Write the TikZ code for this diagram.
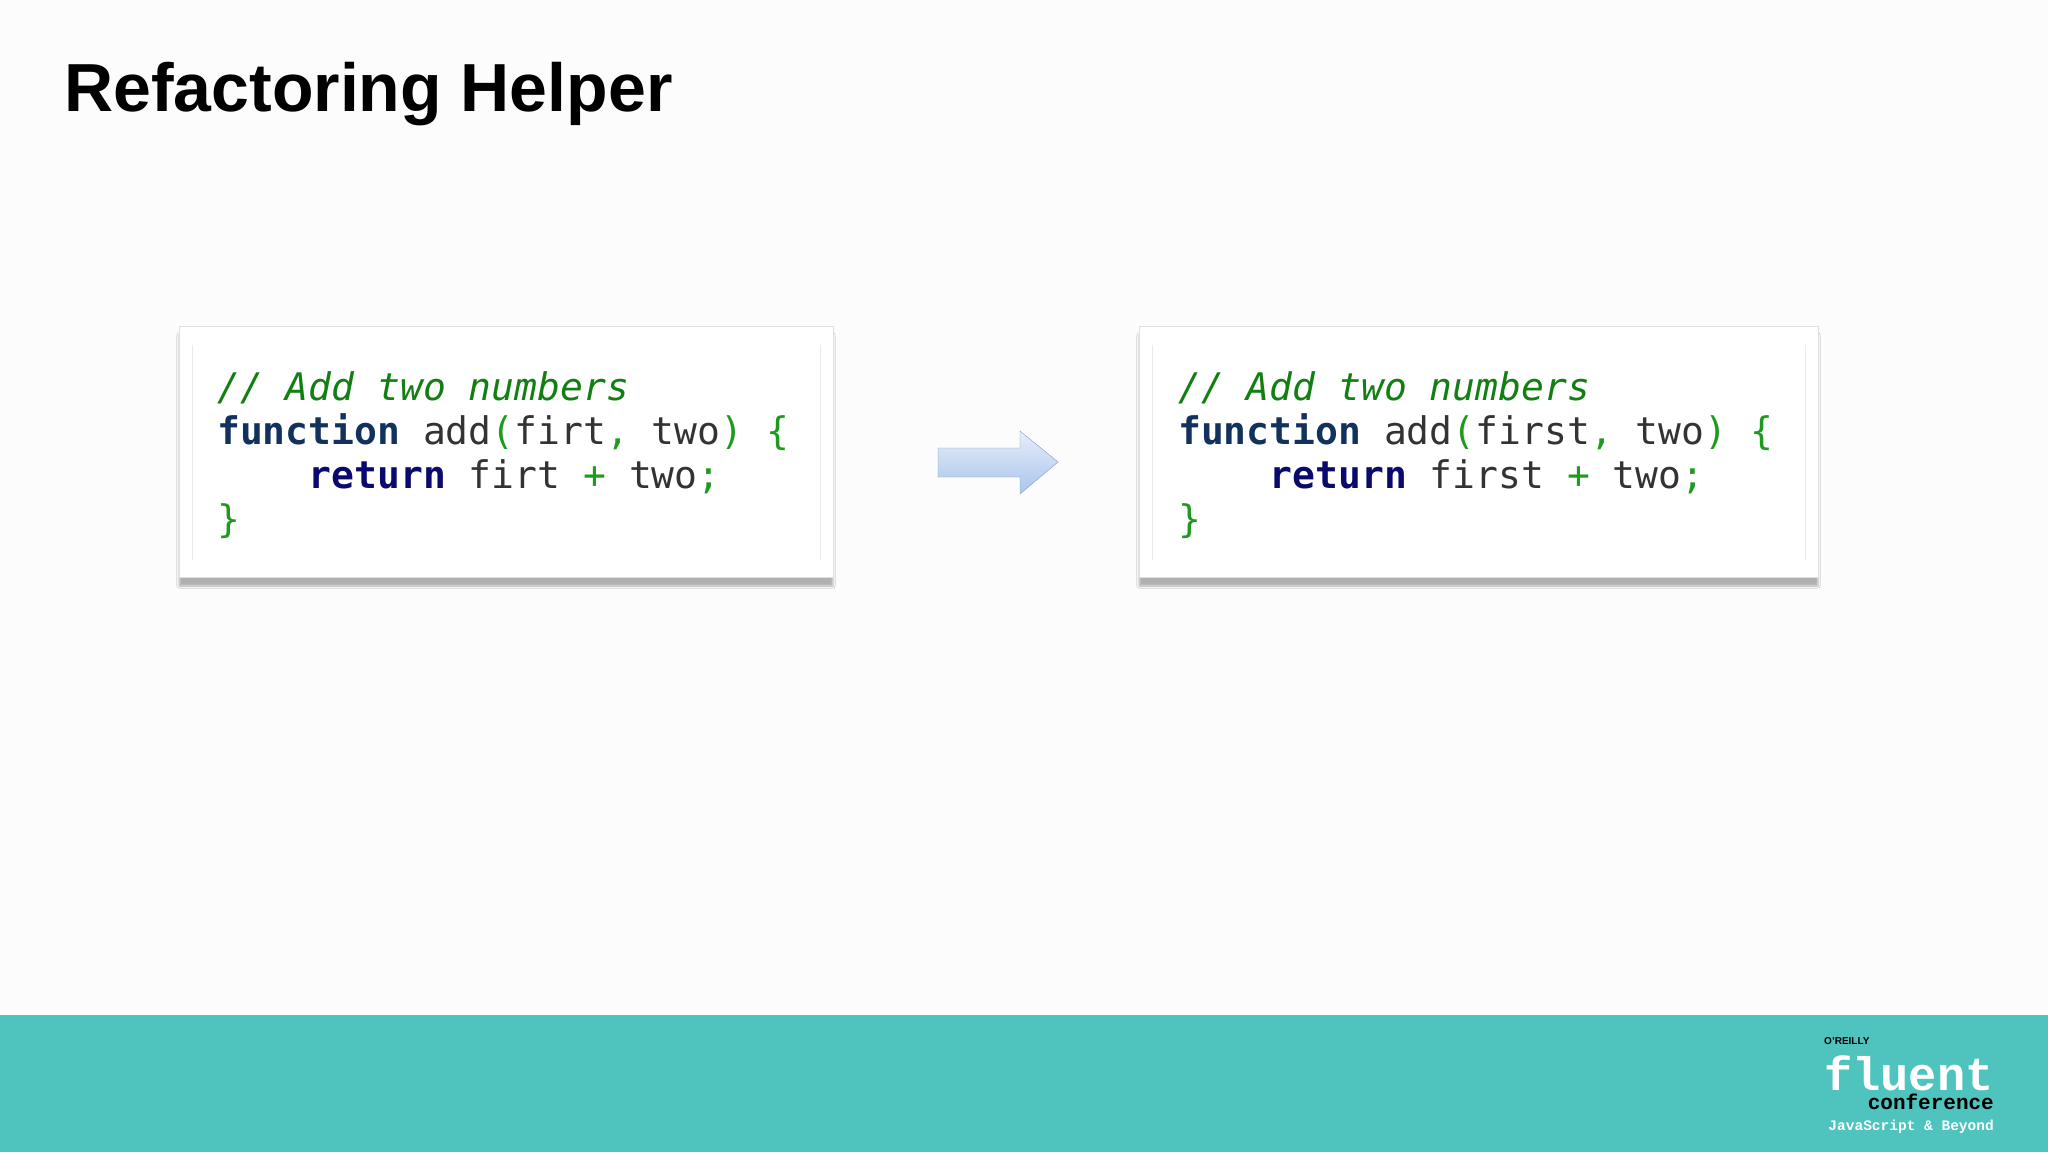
\documentclass[tikz,border=0pt]{standalone}
\usepackage{fontspec}
\setmainfont{Liberation Sans}
\setmonofont{DejaVu Sans Mono}
\newfontfamily\logofont{Liberation Mono}
\usetikzlibrary{shadows.blur}
\definecolor{bandteal}{HTML}{4FC3BE}
\definecolor{cmt}{HTML}{127F12}
\definecolor{kwfun}{HTML}{12325E}
\definecolor{kwret}{HTML}{0A0A6E}
\definecolor{punc}{HTML}{1E9A1E}
\definecolor{txt}{HTML}{333333}
\definecolor{arrtop}{HTML}{E6EEFA}
\definecolor{arrbot}{HTML}{A9C4EC}
\newcommand{\cm}[1]{\textcolor{cmt}{\itshape #1}}
\newcommand{\kf}[1]{\textcolor{kwfun}{\bfseries #1}}
\newcommand{\kr}[1]{\textcolor{kwret}{\bfseries #1}}
\newcommand{\pn}[1]{\textcolor{punc}{#1}}
\tikzset{codebox/.style = {fill=white, draw=black!12, blur shadow={shadow xshift=0pt, shadow yshift=-9pt, shadow opacity=30}},
         code/.style = {anchor=base west, inner sep=0, font=\ttfamily\fontsize{38}{38}\selectfont, text=txt},
         logo/.style = {inner sep=0, font=\logofont\bfseries}}

\begin{document}
\begin{tikzpicture}[x=1pt, y=-1pt]
    \useasboundingbox [fill=black!1] (0, 0) rectangle (2048, 1152);
    \fill [bandteal] (0, 1015) rectangle (2048, 1152);

    \node [anchor=base west, inner sep=0, font=\bfseries\fontsize{68}{68}\selectfont] (title) at (64, 111) {Refactoring Helper};

    % before
    \draw [codebox] (179, 326) rectangle (833, 577);
    \draw [black!8] (192, 345) -- (192, 560) (820, 345) -- (820, 560);
    \node [code] (a1) at (217, 400) {\cm{// Add two numbers}};
    \node [code] (a2) at (217, 444) {\kf{function} add\pn{(}firt\pn{,} two\pn{)} \pn{\{}};
    \node [code] (a3) at (217, 488) {\phantom{xxxx}\kr{return} firt \pn{+} two\pn{;}};
    \node [code] (a4) at (217, 532) {\pn{\}}};

    % after
    \draw [codebox] (1139, 326) rectangle (1818, 577);
    \draw [black!8] (1152, 345) -- (1152, 560) (1805, 345) -- (1805, 560);
    \node [code] (b1) at (1178, 400) {\cm{// Add two numbers}};
    \node [code] (b2) at (1178, 444) {\kf{function} add\pn{(}first\pn{,} two\pn{)} \pn{\{}};
    \node [code] (b3) at (1178, 488) {\phantom{xxxx}\kr{return} first \pn{+} two\pn{;}};
    \node [code] (b4) at (1178, 532) {\pn{\}}};

    % arrow
    \shade [top color=arrtop, bottom color=arrbot, draw=arrbot!80!black]
        (938, 448) -- (1020, 448) -- (1020, 431) -- (1058, 462) -- (1020, 494) -- (1020, 477) -- (938, 477) -- cycle;

    % logo
    \node [anchor=base west, inner sep=0, font=\bfseries\fontsize{10}{10}\selectfont] (oreilly) at (1824, 1044) {O'REILLY};
    \node [logo, anchor=base west, text=white, font=\logofont\bfseries\fontsize{47}{47}\selectfont] (fluent) at (1824, 1090) {fluent};
    \node [logo, anchor=base east, font=\logofont\bfseries\fontsize{21}{21}\selectfont] (conf) at (1994, 1109) {conference};
    \node [logo, anchor=base east, text=white, font=\logofont\bfseries\fontsize{14.5}{14.5}\selectfont] (js) at (1994, 1130) {JavaScript \& Beyond};
\end{tikzpicture}
\end{document}
